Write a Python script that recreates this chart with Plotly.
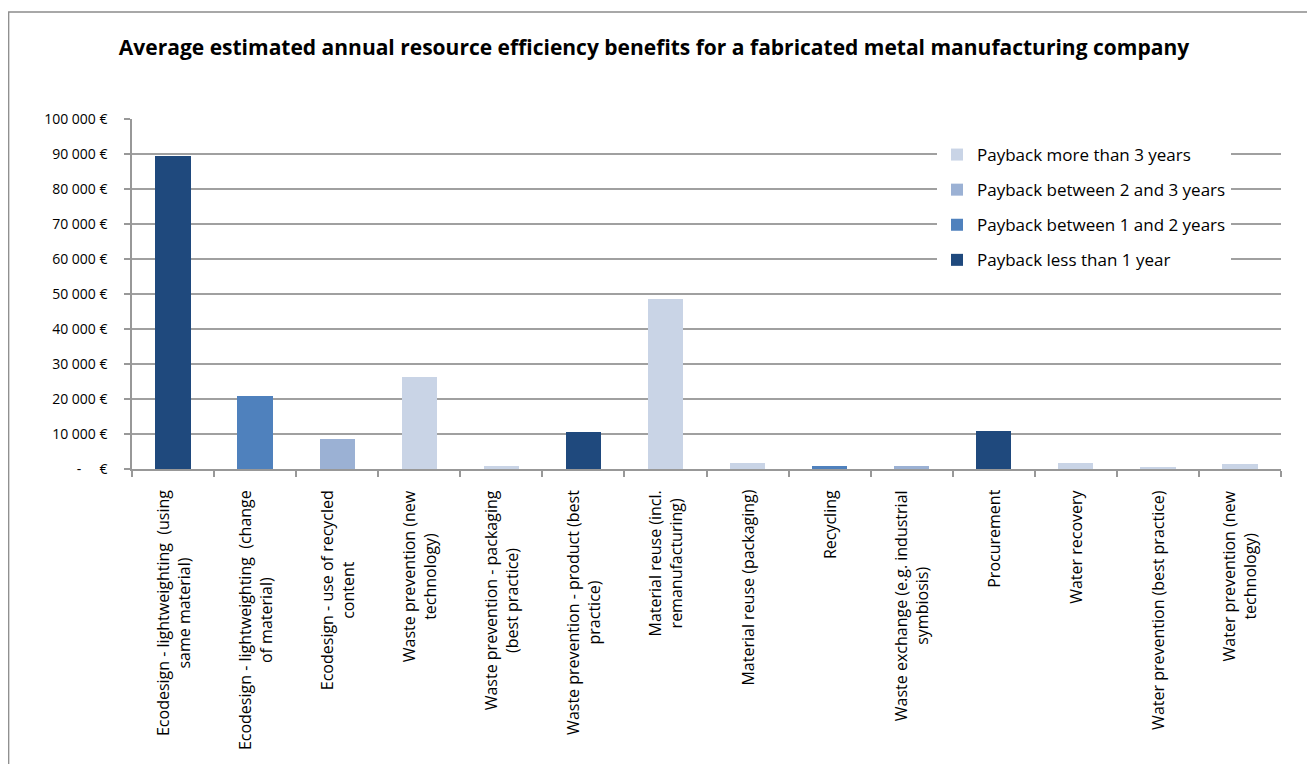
import plotly.graph_objects as go

categories = [
    "Ecodesign - lightweighting  (using<br>same material)",
    "Ecodesign - lightweighting  (change<br>of material)",
    "Ecodesign - use of recycled<br>content",
    "Waste prevention (new<br>technology)",
    "Waste prevention - packaging<br>(best practice)",
    "Waste prevention - product (best<br>practice)",
    "Material reuse (incl.<br>remanufacturing)",
    "Material reuse (packaging)",
    "Recycling",
    "Waste exchange (e.g. industrial<br>symbiosis)",
    "Procurement",
    "Water recovery",
    "Water prevention (best practice)",
    "Water prevention (new<br>technology)",
]

less_than_1 = [89300, 0, 0, 0, 0, 10600, 0, 0, 0, 0, 11000, 0, 0, 0]
between_1_2 = [0, 21000, 0, 0, 0, 0, 0, 0, 1000, 0, 0, 0, 0, 0]
between_2_3 = [0, 0, 8600, 0, 0, 0, 0, 0, 0, 750, 0, 0, 0, 0]
more_than_3 = [0, 0, 0, 26200, 750, 0, 48500, 1600, 0, 0, 0, 1800, 700, 1450]

series_names = [
    "Payback less than 1 year",
    "Payback between 1 and 2 years",
    "Payback between 2 and 3 years",
    "Payback more than 3 years",
]
series_colors = ["#1F497D", "#4F81BD", "#9BB1D4", "#C9D4E6"]
series_values = [less_than_1, between_1_2, between_2_3, more_than_3]
legend_ranks = [4, 3, 2, 1]

NB = "\u00a0"
y_tickvals = [0, 10000, 20000, 30000, 40000, 50000, 60000, 70000, 80000, 90000, 100000]
y_ticktext = ["-" + NB * 5 + "€", "10 000 €", "20 000 €", "30 000 €", "40 000 €", "50 000 €",
              "60 000 €", "70 000 €", "80 000 €", "90 000 €", "100 000 €"]

FONT = "Open Sans"

fig = go.Figure()
for i, (name, color, vals) in enumerate(zip(series_names, series_colors, series_values)):
    fig.add_trace(go.Bar(
        x=categories, y=vals, name=name,
        marker=dict(color=color, line=dict(width=0)),
        legendgroup=f"g{i}", legendrank=legend_ranks[i],
    ))

# page has an 8px body margin; lay the figure out in page coordinates
OFF = 8
W, H = 1315 - OFF, 764 - OFF
PL, PR, PT, PB = 132, 1281, 119, 469   # plot area in page pixels
L = PL - OFF
T = PT - OFF
pw = PR - PL
ph = PB - PT
R = W - L - pw
B = H - T - ph

def px_x(x):
    return (x - PL) / pw

def px_y(y):
    return (PB - y) / ph

# category labels: rotated, lines centred (as in the original)
label_annotations = [
    dict(
        x=cat, xref="x", y=0, yref="paper",
        text=cat, textangle=-90, showarrow=False,
        xanchor="center", yanchor="top", align="center",
        yshift=-19,
        font=dict(family=FONT, size=16, color="black"),
    )
    for cat in categories
]

fig.update_layout(
    width=W, height=H,
    barmode="stack",
    bargap=0.57,
    paper_bgcolor="white",
    plot_bgcolor="white",
    margin=dict(l=L, r=R, t=T, b=B, autoexpand=False),
    font=dict(family=FONT, size=13, color="black"),
    title=dict(
        text="<b>Average estimated annual resource efficiency benefits for a fabricated metal manufacturing company</b>",
        x=(654 - OFF) / W, xanchor="center", y=1 - (48 - OFF) / H, yanchor="middle",
        font=dict(family=FONT, size=21, color="black"),
    ),
    legend=dict(
        x=px_x(937), y=px_y(137), xanchor="left", yanchor="top",
        bgcolor="white", borderwidth=0,
        traceorder="grouped", tracegroupgap=10,
        font=dict(family=FONT, size=17, color="black"),
        itemwidth=30,
    ),
    showlegend=True,
    xaxis=dict(
        showline=True, linecolor="#989898", linewidth=1.5,
        ticks="outside", tickson="boundaries", ticklen=6, tickcolor="#989898", tickwidth=1.5,
        showgrid=False,
        showticklabels=False,
    ),
    yaxis=dict(
        range=[0, 100000],
        tickvals=y_tickvals, ticktext=y_ticktext,
        showline=True, linecolor="#989898", linewidth=1.5,
        ticks="outside", ticklen=6, tickcolor="#989898", tickwidth=1.5,
        showgrid=True, gridcolor="#A0A0A0", gridwidth=1.5,
        zeroline=False,
        ticklabelstandoff=14,
        tickfont=dict(family=FONT, size=14, color="black"),
    ),
    annotations=label_annotations,
    shapes=[dict(
        type="rect", xref="paper", yref="paper",
        x0=px_x(8.7), x1=px_x(1309), y0=px_y(800), y1=px_y(12),
        line=dict(color="#8C8C8C", width=1.3), fillcolor="rgba(0,0,0,0)", layer="below",
    )],
)

fig.write_html("out.html")
